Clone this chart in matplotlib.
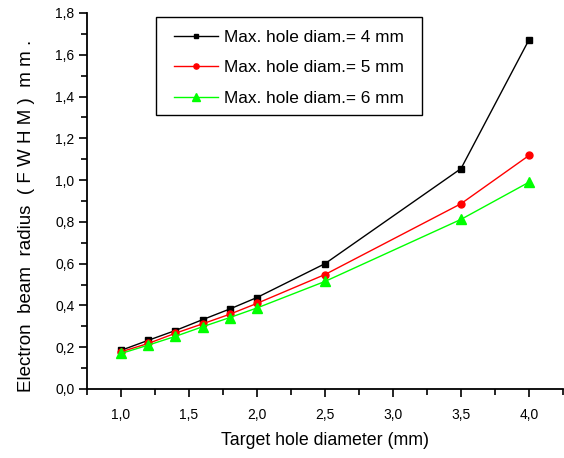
import numpy as np
import matplotlib
matplotlib.use("Agg")
import matplotlib.pyplot as plt
from matplotlib.patches import Rectangle
from matplotlib.ticker import MultipleLocator, FuncFormatter

# target hole diameter (mm)
hole_diam = [1.0, 1.2, 1.4, 1.6, 1.8, 2.0, 2.5, 3.5, 4.0]

# electron beam radius (FWHM) for each max. hole diameter
radius_4mm = [0.185, 0.233, 0.280, 0.332, 0.383, 0.438, 0.600, 1.055, 1.672]
radius_5mm = [0.178, 0.218, 0.267, 0.312, 0.358, 0.410, 0.548, 0.887, 1.118]
radius_6mm = [0.170, 0.210, 0.252, 0.298, 0.342, 0.388, 0.515, 0.812, 0.990]

labels = ["Max. hole diam.= 4 mm", "Max. hole diam.= 5 mm", "Max. hole diam.= 6 mm"]

plt.rcParams['font.family'] = ['Liberation Sans', 'DejaVu Sans']

W, H = 564, 458
fig = plt.figure(figsize=(W / 100, H / 100), dpi=100)
# axes box in pixels: spine x 87..563, y 13..389
ax = fig.add_axes([87 / W, (H - 389) / H, 476 / W, 376 / H])

ax.plot(hole_diam, radius_4mm, color='black', lw=1, marker='s', ms=4.5, label=labels[0])
ax.plot(hole_diam, radius_5mm, color='red', lw=1, marker='o', ms=5, label=labels[1])
ax.plot(hole_diam, radius_6mm, color='#00ff00', lw=1, marker='^', ms=7, label=labels[2])

ax.set_xlim(0.75, 4.25)
ax.set_ylim(0, 1.8)
ax.xaxis.set_major_locator(MultipleLocator(0.5))
ax.xaxis.set_minor_locator(MultipleLocator(0.25))
ax.yaxis.set_major_locator(MultipleLocator(0.2))
ax.yaxis.set_minor_locator(MultipleLocator(0.1))

comma = FuncFormatter(lambda v, p: ("%.1f" % v).replace('.', ','))
ax.xaxis.set_major_formatter(comma)
ax.yaxis.set_major_formatter(comma)

ax.spines['top'].set_visible(False)
ax.spines['right'].set_visible(False)
ax.spines['left'].set_linewidth(1.3)
ax.spines['bottom'].set_linewidth(1.3)
ax.tick_params(which='major', direction='out', length=6, width=1.2, labelsize=10)
ax.tick_params(which='minor', direction='out', length=4, width=1.2)
ax.tick_params(axis='x', pad=8)
ax.tick_params(axis='y', pad=3)

ax.set_xlabel("Target hole diameter (mm)", fontsize=12.8, labelpad=7)
fig.text(27 / W, 1 - 216 / H, "Electron  beam  radius  ( F W H M )  m m .",
         rotation=90, ha='center', va='center', fontsize=13.5)

# legend without its own frame; a wider box is drawn around it afterwards
leg = ax.legend(loc='upper left', bbox_to_anchor=(0.162, 0.9806), borderaxespad=0,
                fontsize=12.4, frameon=False,
                handlelength=2.55, handletextpad=0.35, borderpad=0.57,
                labelspacing=0.88, markerscale=0.75)

fig.canvas.draw()
bb = leg.get_window_extent()
extra = 8.5
top_extra = 3
frame = Rectangle((bb.x0 - extra, bb.y0), bb.width + 2 * extra, bb.height + top_extra,
                  transform=None, fill=False, edgecolor='black', linewidth=1.0)
fig.add_artist(frame)

fig.savefig("out.png", dpi=100)
